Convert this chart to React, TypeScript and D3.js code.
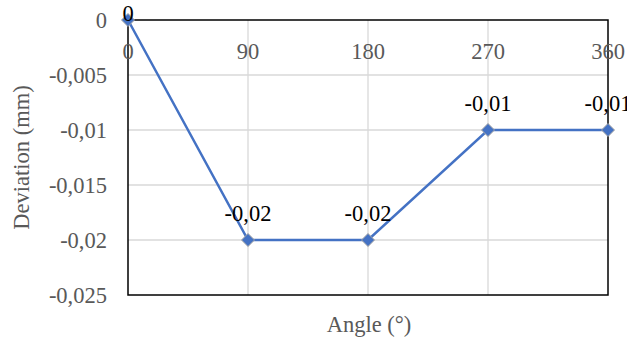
import React from "react";
import * as d3 from "d3";

const angles = [0, 90, 180, 270, 360];
const deviations = [0, -0.02, -0.02, -0.01, -0.01];
const yTicks = [0, -0.005, -0.01, -0.015, -0.02, -0.025];

const W = 627, H = 340;
const M = { left: 128, right: 19, top: 20, bottom: 45 };

const fmt = (v: number) => (v === 0 ? "0" : String(v).replace(".", ","));

export default function App() {
  const x = d3.scaleLinear().domain([0, 360]).range([M.left, W - M.right]);
  const y = d3.scaleLinear().domain([0, -0.025]).range([M.top, H - M.bottom]);
  const line = d3.line<number>().x((_, i) => x(angles[i])).y((d) => y(d));
  const font = "'Liberation Serif', 'Times New Roman', serif";
  const fs = 22.5;
  const diamond = (cx: number, cy: number, r: number) =>
    `M${cx},${cy - r}L${cx + r},${cy}L${cx},${cy + r}L${cx - r},${cy}Z`;
  return (
    <svg width={W} height={H} style={{ position: "absolute", left: 0, top: 0 }} fontFamily={font}>
      <rect width={W} height={H} fill="#fff" />
      {yTicks.slice(1, -1).map((t) => (
        <line key={t} x1={x(0)} x2={x(360)} y1={y(t)} y2={y(t)} stroke="#d9d9d9" strokeWidth={1.3} />
      ))}
      {angles.slice(1, -1).map((a) => (
        <line key={a} x1={x(a)} x2={x(a)} y1={y(0)} y2={y(-0.025)} stroke="#d9d9d9" strokeWidth={1.3} />
      ))}
      <rect x={x(0)} y={y(0)} width={x(360) - x(0)} height={y(-0.025) - y(0)} fill="none" stroke="#000" strokeWidth={1.5} />
      {yTicks.map((t) => (
        <text key={t} x={107} y={y(t) + 8} textAnchor="end" fontSize={fs} fill="#595959">
          {fmt(t)}
        </text>
      ))}
      {angles.map((a) => (
        <text key={a} x={x(a)} y={59} textAnchor="middle" fontSize={fs} fill="#595959">
          {a}
        </text>
      ))}
      <path d={line(deviations) || ""} fill="none" stroke="#4472C4" strokeWidth={2.5} />
      {deviations.map((d, i) => (
        <path key={i} d={diamond(x(angles[i]), y(d), 6.5)} fill="#4472C4" stroke="#a5a5a5" strokeWidth={1} />
      ))}
      {deviations.map((d, i) => (
        <text key={i} x={x(angles[i])} y={Math.max(y(d) - 19, 21)} textAnchor="middle" fontSize={fs} fill="#000">
          {fmt(d)}
        </text>
      ))}
      <text x={(x(0) + x(360)) / 2 + 1} y={332} textAnchor="middle" fontSize={fs} fill="#595959">
        Angle (°)
      </text>
      <text transform={`translate(29,${(y(0) + y(-0.025)) / 2}) rotate(-90)`} textAnchor="middle" fontSize={fs} fill="#595959">
        Deviation (mm)
      </text>
    </svg>
  );
}
